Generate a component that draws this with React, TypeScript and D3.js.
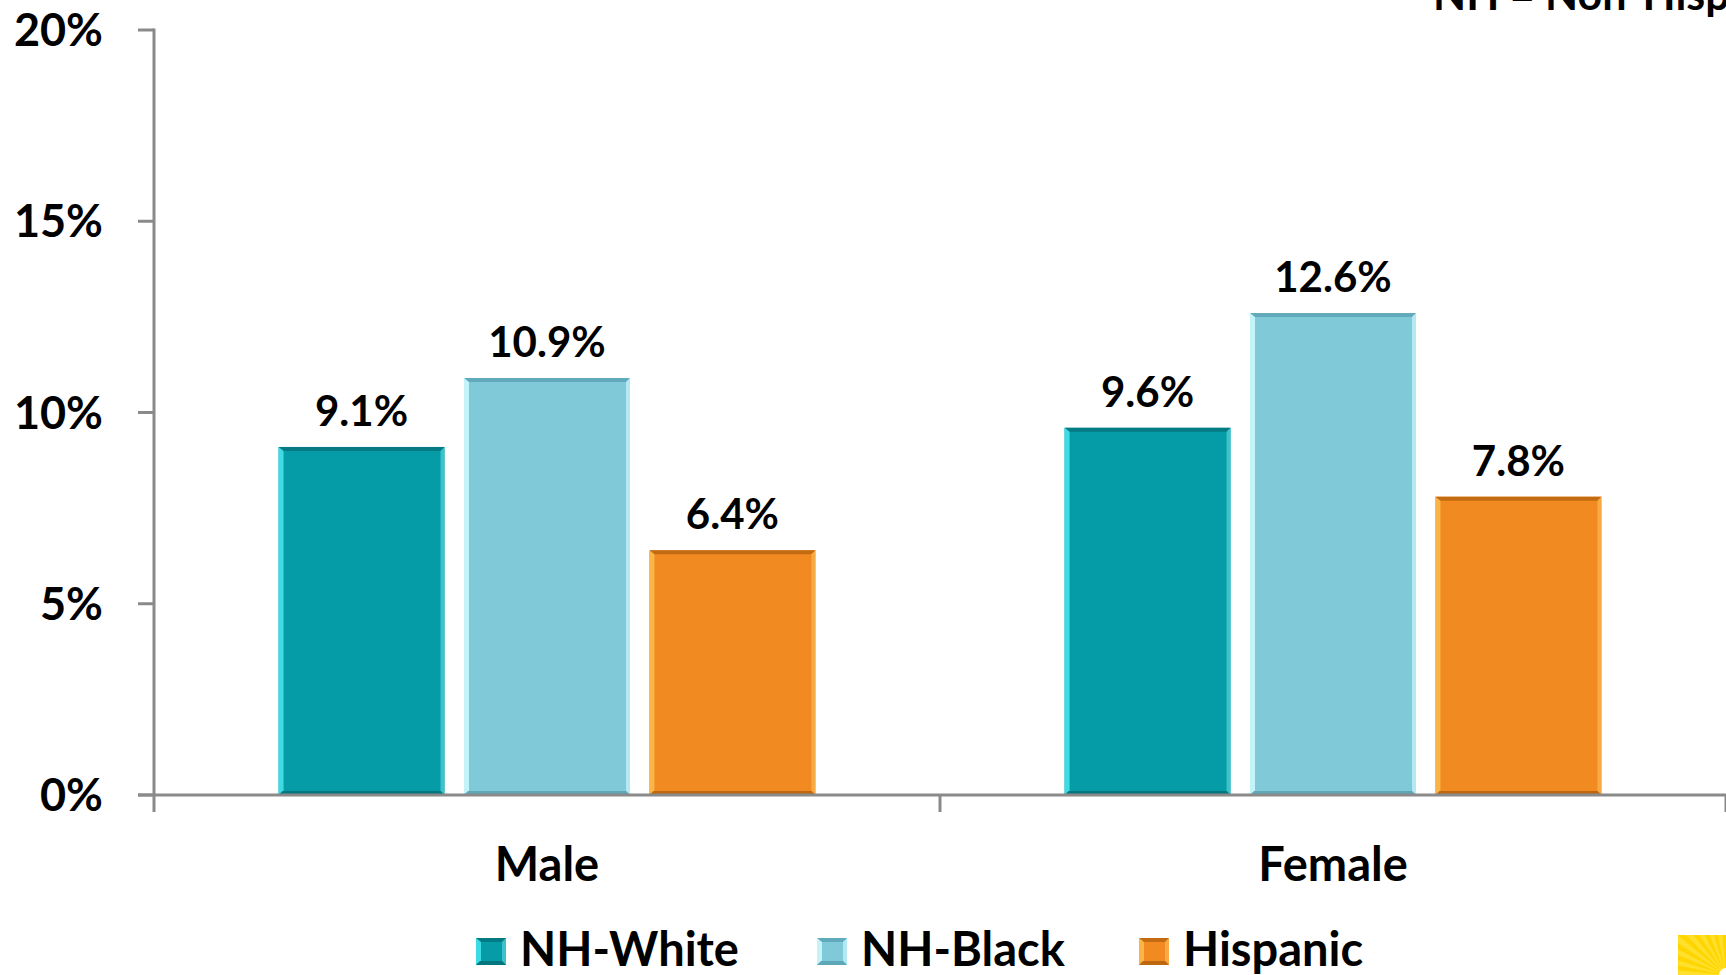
import React from "react";
import * as d3 from "d3";

const categories = ["Male", "Female"];
const series = ["NH-White", "NH-Black", "Hispanic"];
const maleValues = [9.1, 10.9, 6.4];
const femaleValues = [9.6, 12.6, 7.8];
const yTicks = [0, 5, 10, 15, 20];
const note = "NH = Non-Hispanic";

const values: number[][] = [maleValues, femaleValues];

const palette = [
  { base: "#059ca8", light: "#3ddbe3", dark: "#04727a", right: "#48c9d0" },
  { base: "#7fc9d9", light: "#c4f3fa", dark: "#5aa3b3", right: "#bdeef6" },
  { base: "#f08a21", light: "#f9b548", dark: "#b8630f", right: "#f7b04a" },
];

const W = 1726;
const H = 975;
const FONT = "Lato, 'Open Sans', sans-serif";

function Bar({ x, y, w, h, c }: { x: number; y: number; w: number; h: number; c: typeof palette[0] }) {
  const e = 4;
  return (
    <g>
      <rect x={x} y={y} width={w} height={h} fill={c.base} />
      <polygon points={`${x},${y} ${x + w},${y} ${x + w - e},${y + e} ${x + e},${y + e}`} fill={c.dark} opacity={0.8} />
      <polygon points={`${x},${y} ${x + e + 1},${y + e} ${x + e + 1},${y + h - e} ${x},${y + h}`} fill={c.light} />
      <polygon points={`${x + w},${y} ${x + w},${y + h} ${x + w - e},${y + h - e} ${x + w - e},${y + e}`} fill={c.right} opacity={0.85} />
      <polygon points={`${x},${y + h} ${x + e},${y + h - e} ${x + w - e},${y + h - e} ${x + w},${y + h}`} fill={c.dark} opacity={0.9} />
    </g>
  );
}

export default function App() {
  const left = 154;
  const baseY = 795;
  const topY = 30;
  const y = d3.scaleLinear().domain([0, 20]).range([baseY, topY]);
  const x0 = d3.scaleBand<string>().domain(categories).range([left, 1726]).paddingInner(0).paddingOuter(0);
  const groupW = x0.bandwidth() * 0.683;
  const x1 = d3.scaleBand<string>().domain(series).range([0, groupW]).paddingInner(0.105).paddingOuter(0);
  const axisColor = "#8a8a8a";

  const rays = d3.range(0, 8).map((i) => {
    const a0 = Math.PI + (i / 8) * (Math.PI / 2);
    const a1 = a0 + Math.PI / 32;
    const cx = 1726, cy = 975, r = 90;
    return `${cx},${cy} ${cx + r * Math.cos(a0)},${cy + r * Math.sin(a0)} ${cx + r * Math.cos(a1)},${cy + r * Math.sin(a1)}`;
  });

  return (
    <svg width={W} height={H} style={{ position: "absolute", left: 0, top: 0, background: "#fff" }} fontFamily={FONT}>
      <rect width={W} height={H} fill="#fff" />
      {/* note */}
      <text x={1433} y={10} fontSize={43} fontWeight={700} fill="#000">{note}</text>

      {/* y axis */}
      <line x1={left} x2={left} y1={topY - 1.5} y2={baseY + 17} stroke={axisColor} strokeWidth={3} />
      {yTicks.map((t) => (
        <g key={t}>
          <line x1={left - 16} x2={left} y1={y(t)} y2={y(t)} stroke={axisColor} strokeWidth={3} />
          <text x={103} y={y(t) + 16} textAnchor="end" fontSize={45} fontWeight={700} fill="#000">{t}%</text>
        </g>
      ))}

      {/* bars */}
      {categories.map((cat, ci) => {
        const gx = (x0(cat) as number) + (x0.bandwidth() - groupW) / 2;
        return (
          <g key={cat}>
            {series.map((s, si) => {
              const v = values[ci][si];
              const bx = gx + (x1(s) as number);
              const by = y(v);
              return (
                <g key={s}>
                  <Bar x={bx} y={by} w={x1.bandwidth()} h={baseY - by} c={palette[si]} />
                  <text x={bx + x1.bandwidth() / 2} y={by - 21} textAnchor="middle" fontSize={42} fontWeight={700} fill="#000">
                    {v.toFixed(1)}%
                  </text>
                </g>
              );
            })}
            <text x={(x0(cat) as number) + x0.bandwidth() / 2} y={881} textAnchor="middle" fontSize={47} fontWeight={700} fill="#000">
              {cat}
            </text>
          </g>
        );
      })}

      {/* x axis */}
      <line x1={left - 16} x2={W} y1={baseY} y2={baseY} stroke={axisColor} strokeWidth={3} />
      {categories.map((cat) => (
        <line key={cat} x1={(x0(cat) as number) + x0.bandwidth()} x2={(x0(cat) as number) + x0.bandwidth()} y1={baseY} y2={baseY + 17} stroke={axisColor} strokeWidth={3} />
      ))}

      {/* legend */}
      {series.map((s, si) => {
        const lx = [476, 817, 1139][si];
        return (
          <g key={s}>
            <Bar x={lx} y={938} w={30} h={27} c={palette[si]} />
            <text x={lx + 44} y={966} fontSize={47} fontWeight={700} fill="#000">{s}</text>
          </g>
        );
      })}

      {/* yellow corner */}
      <rect x={1678} y={935} width={48} height={40} fill="#ffd500" />
      <clipPath id="corner"><rect x={1678} y={935} width={48} height={40} /></clipPath>
      <g clipPath="url(#corner)">
        {rays.map((p, i) => (
          <polygon key={i} points={p} fill="#ffe640" opacity={0.7} />
        ))}
        <circle cx={1726} cy={975} r={7} fill="#fff" />
      </g>
    </svg>
  );
}
